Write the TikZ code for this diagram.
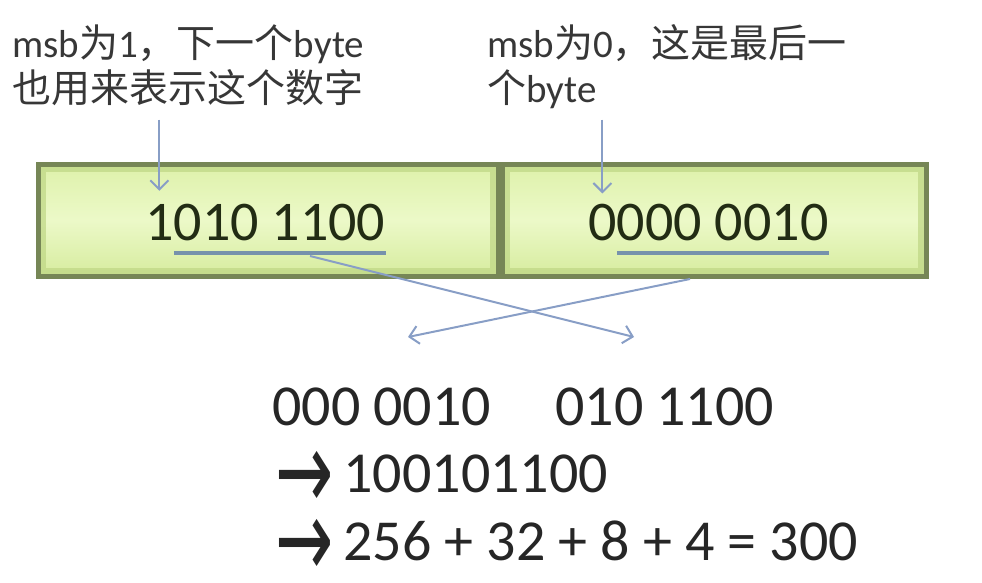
\documentclass[tikz,border=0pt]{standalone}
\usepackage{fontspec}
\setmainfont{Carlito}
\newfontfamily\cjk{Noto Sans CJK SC}
\newfontfamily\arrowfont{DejaVu Sans}
\usetikzlibrary{arrows.meta, positioning, calc}

\definecolor{bytetop}{RGB}{222,241,170}
\definecolor{bytemid}{RGB}{236,249,200}
\definecolor{bytebot}{RGB}{214,236,158}
\definecolor{byteedge}{RGB}{118,134,86}
\definecolor{byteglow}{RGB}{190,214,132}
\definecolor{pointerblue}{RGB}{136,158,198}
\definecolor{payblue}{RGB}{118,146,172}
\definecolor{digitink}{RGB}{34,44,20}
\definecolor{labelink}{RGB}{55,55,55}

\newcommand{\bigarrow}{{\arrowfont\raisebox{-17pt}{\scalebox{1.2}[1.9]{→}}}}

\tikzset{
  bytebox/.style={draw=byteedge, line width=5pt, top color=bytetop, bottom color=bytebot, middle color=bytemid, inner sep=0pt,
    path picture={\draw[byteglow, opacity=0.7, line width=16pt] (path picture bounding box.south west) rectangle (path picture bounding box.north east);}},
  bittext/.style={font=\fontsize{56}{60}\selectfont, text=digitink, inner sep=0pt, anchor=base west},
  sumtext/.style={font=\fontsize{58}{62}\selectfont, text=black!85, inner sep=0pt, anchor=base west},
  msblabel/.style={font=\fontsize{39}{45}\selectfont, text=labelink, inner sep=0pt, align=left, anchor=north west},
  pointer/.style={pointerblue, line width=2pt, -{Straight Barb[length=9pt, width=18pt]}},
  payline/.style={payblue, line width=4pt},
}

\begin{document}
\begin{tikzpicture}[x=1pt, y=-1pt]
  \useasboundingbox (0,0) rectangle (982,582);

  % the two bytes
  \node[bytebox, minimum width=460pt, minimum height=112pt] (bytehi) at (268,220) {};
  \node[bytebox, minimum width=424pt, minimum height=112pt] (bytelo) at (714,220) {};

  % bits of each byte: msb and payload
  \node[bittext] (himsb) at (145,240) {1};
  \node[bittext] (hipay) at (himsb.base east) {010 1100};
  \node[bittext] (lomsb) at (588,240) {0};
  \node[bittext] (lopay) at (lomsb.base east) {000 0010};
  \draw[payline] ([yshift=-13pt]hipay.base west) -- ([yshift=-13pt]hipay.base east);
  \draw[payline] ([yshift=-13pt]lopay.base west) -- ([yshift=-13pt]lopay.base east);

  % labels on the msb
  \node[msblabel] (msbhi) at (12,24) {msb{\cjk 为}1{\cjk ，下一个}byte\\{\cjk 也用来表示这个数字}};
  \node[msblabel] (msblo) at (487,24) {msb{\cjk 为}0{\cjk ，这是最后一}\\{\cjk 个}byte};
  \draw[pointer] ([yshift=-14pt]msbhi.south -| himsb.north) -- ([yshift=13pt]himsb.north);
  \draw[pointer] ([yshift=-14pt]msbhi.south -| lomsb.north) -- ([yshift=10pt]lomsb.north);

  % result
  \node[sumtext] (sumlo) at (272,425) {000 0010};
  \node[sumtext] (sumhi) at (555,425) {010 1100};
  \node[sumtext] (joined) at (275,492) {\bigarrow\hspace{10pt}100101100};
  \node[sumtext] (total) at (275,560) {\bigarrow\hspace{10pt}256 + 32 + 8 + 4 = 300};

  % swap the two groups
  \coordinate (hifrom) at (310,256);
  \coordinate (lofrom) at (690,279);
  \coordinate (hito) at (634,337);
  \coordinate (loto) at (408,337);
  \draw[pointer] (hifrom) -- (hito);
  \draw[pointer] (lofrom) -- (loto);
\end{tikzpicture}
\end{document}
